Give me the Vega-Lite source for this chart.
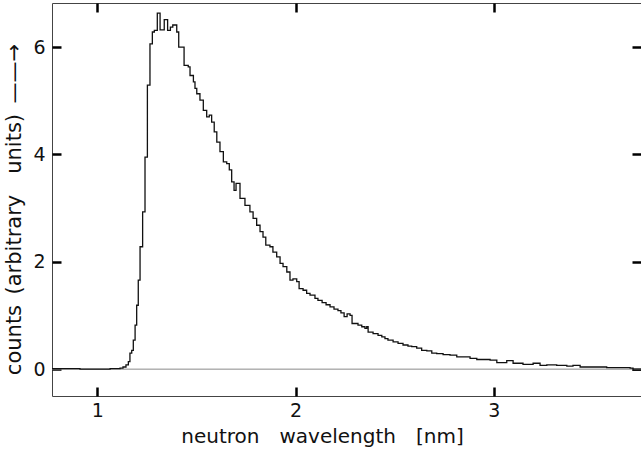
{
  "$schema": "https://vega.github.io/schema/vega-lite/v6.json",
  "width": 589,
  "height": 393,
  "autosize": {"type": "none"},
  "padding": {"left": 52, "top": 3, "right": 0, "bottom": 54},
  "background": "white",
  "config": {
    "view": {"stroke": "#444", "strokeWidth": 1},
    "axis": {
      "grid": false,
      "domain": false,
      "ticks": true,
      "tickColor": "#000",
      "tickWidth": 2.5,
      "labelFont": "DejaVu Sans",
      "titleFont": "DejaVu Sans",
      "labelFontSize": 19,
      "titleFontSize": 20,
      "titleFontWeight": "normal",
      "labelColor": "#111",
      "titleColor": "#111"
    }
  },
  "datasets": {
    "zero": [{"x": 0.772, "y": 0}, {"x": 3.742, "y": 0}],
    "spec": [
      {"x": 0.772, "y": 0.01}, {"x": 0.913, "y": 0.0}, {"x": 1.065, "y": 0.01},
      {"x": 1.115, "y": 0.02}, {"x": 1.130, "y": 0.04}, {"x": 1.145, "y": 0.08},
      {"x": 1.157, "y": 0.14}, {"x": 1.165, "y": 0.30}, {"x": 1.174, "y": 0.35},
      {"x": 1.182, "y": 0.54}, {"x": 1.191, "y": 0.82}, {"x": 1.199, "y": 1.19},
      {"x": 1.207, "y": 1.66}, {"x": 1.216, "y": 2.28}, {"x": 1.229, "y": 2.93},
      {"x": 1.241, "y": 3.95}, {"x": 1.253, "y": 5.29}, {"x": 1.266, "y": 6.06},
      {"x": 1.278, "y": 6.28}, {"x": 1.288, "y": 6.31}, {"x": 1.303, "y": 6.63},
      {"x": 1.317, "y": 6.32}, {"x": 1.338, "y": 6.51}, {"x": 1.355, "y": 6.31},
      {"x": 1.369, "y": 6.37}, {"x": 1.381, "y": 6.41}, {"x": 1.401, "y": 6.28},
      {"x": 1.411, "y": 6.00}, {"x": 1.438, "y": 5.66}, {"x": 1.459, "y": 5.63},
      {"x": 1.468, "y": 5.47}, {"x": 1.485, "y": 5.35}, {"x": 1.493, "y": 5.23},
      {"x": 1.502, "y": 5.13}, {"x": 1.518, "y": 5.01}, {"x": 1.535, "y": 4.82},
      {"x": 1.552, "y": 4.70}, {"x": 1.565, "y": 4.73}, {"x": 1.577, "y": 4.60},
      {"x": 1.590, "y": 4.42}, {"x": 1.603, "y": 4.23}, {"x": 1.619, "y": 4.05},
      {"x": 1.636, "y": 3.86}, {"x": 1.653, "y": 3.83}, {"x": 1.666, "y": 3.71},
      {"x": 1.678, "y": 3.49}, {"x": 1.690, "y": 3.33}, {"x": 1.700, "y": 3.46},
      {"x": 1.711, "y": 3.46}, {"x": 1.720, "y": 3.18}, {"x": 1.745, "y": 3.05},
      {"x": 1.770, "y": 2.93}, {"x": 1.786, "y": 2.81}, {"x": 1.804, "y": 2.68},
      {"x": 1.821, "y": 2.56}, {"x": 1.836, "y": 2.46}, {"x": 1.850, "y": 2.31},
      {"x": 1.871, "y": 2.28}, {"x": 1.886, "y": 2.18}, {"x": 1.905, "y": 2.09},
      {"x": 1.922, "y": 1.97}, {"x": 1.937, "y": 1.91}, {"x": 1.956, "y": 1.81},
      {"x": 1.972, "y": 1.66}, {"x": 1.987, "y": 1.68}, {"x": 2.006, "y": 1.63},
      {"x": 2.018, "y": 1.50}, {"x": 2.038, "y": 1.47}, {"x": 2.056, "y": 1.41},
      {"x": 2.073, "y": 1.38}, {"x": 2.098, "y": 1.32}, {"x": 2.113, "y": 1.28},
      {"x": 2.134, "y": 1.24}, {"x": 2.154, "y": 1.20}, {"x": 2.174, "y": 1.16},
      {"x": 2.194, "y": 1.12}, {"x": 2.214, "y": 1.09}, {"x": 2.229, "y": 1.05},
      {"x": 2.245, "y": 0.98}, {"x": 2.260, "y": 1.03}, {"x": 2.275, "y": 1.00},
      {"x": 2.285, "y": 0.85}, {"x": 2.315, "y": 0.82}, {"x": 2.334, "y": 0.79},
      {"x": 2.350, "y": 0.76}, {"x": 2.359, "y": 0.79}, {"x": 2.366, "y": 0.69},
      {"x": 2.391, "y": 0.66}, {"x": 2.416, "y": 0.63}, {"x": 2.435, "y": 0.60},
      {"x": 2.451, "y": 0.57}, {"x": 2.466, "y": 0.54}, {"x": 2.492, "y": 0.51},
      {"x": 2.517, "y": 0.48}, {"x": 2.542, "y": 0.45}, {"x": 2.567, "y": 0.43},
      {"x": 2.586, "y": 0.42}, {"x": 2.611, "y": 0.39}, {"x": 2.636, "y": 0.35},
      {"x": 2.662, "y": 0.34}, {"x": 2.687, "y": 0.30}, {"x": 2.712, "y": 0.29},
      {"x": 2.744, "y": 0.27}, {"x": 2.779, "y": 0.26}, {"x": 2.813, "y": 0.23},
      {"x": 2.845, "y": 0.23}, {"x": 2.880, "y": 0.20}, {"x": 2.914, "y": 0.18},
      {"x": 2.946, "y": 0.18}, {"x": 2.981, "y": 0.17}, {"x": 3.015, "y": 0.12},
      {"x": 3.065, "y": 0.16}, {"x": 3.097, "y": 0.11}, {"x": 3.147, "y": 0.09},
      {"x": 3.198, "y": 0.11}, {"x": 3.233, "y": 0.07}, {"x": 3.267, "y": 0.08},
      {"x": 3.317, "y": 0.07}, {"x": 3.368, "y": 0.055}, {"x": 3.399, "y": 0.07},
      {"x": 3.435, "y": 0.04}, {"x": 3.500, "y": 0.04}, {"x": 3.569, "y": 0.03},
      {"x": 3.636, "y": 0.03}, {"x": 3.687, "y": 0.02}, {"x": 3.702, "y": -0.02},
      {"x": 3.742, "y": -0.02}
    ]
  },
  "resolve": {"axis": {"x": "independent", "y": "independent"}},
  "layer": [
    {
      "data": {"name": "zero"},
      "mark": {"type": "line", "color": "#8a8a8a", "strokeWidth": 1},
      "encoding": {
        "x": {"field": "x", "type": "quantitative",
              "scale": {"domain": [0.772, 3.742], "nice": false, "zero": false},
              "axis": null},
        "y": {"field": "y", "type": "quantitative",
              "scale": {"domain": [-0.5, 6.82], "nice": false, "zero": false},
              "axis": null}
      }
    },
    {
      "data": {"name": "spec"},
      "mark": {"type": "line", "interpolate": "step-after", "color": "#111", "strokeWidth": 1.3},
      "encoding": {
        "x": {"field": "x", "type": "quantitative",
              "axis": {"orient": "bottom", "values": [1, 2, 3], "tickColor": "#000", "tickWidth": 2.5, "offset": -9, "tickSize": 9, "labelPadding": 5, "title": "neutron\u2003wavelength\u2003[nm]", "titlePadding": 6, "titleX": 270, "titleAlign": "center"}},
        "y": {"field": "y", "type": "quantitative",
              "axis": {"orient": "left", "values": [0, 2, 4, 6], "tickColor": "#000", "tickWidth": 2.5, "offset": -9, "tickSize": 9, "labelPadding": 7, "title": "counts\u2002(arbitrary\u2003units)\u2002\u2014\u2014\u2192", "titleFontSize": 21, "titlePadding": 8, "titleY": 206}}
      }
    },
    {
      "data": {"name": "spec"},
      "mark": {"type": "line", "opacity": 0},
      "encoding": {
        "x": {"field": "x", "type": "quantitative",
              "axis": {"orient": "top", "values": [1, 2, 3], "tickColor": "#000", "tickWidth": 2.5, "offset": -9, "tickSize": 9, "labels": false, "title": null}},
        "y": {"field": "y", "type": "quantitative",
              "axis": {"orient": "right", "values": [0, 2, 4, 6], "tickColor": "#000", "tickWidth": 2.5, "offset": -9, "tickSize": 9, "labels": false, "title": null}}
      }
    }
  ]
}
